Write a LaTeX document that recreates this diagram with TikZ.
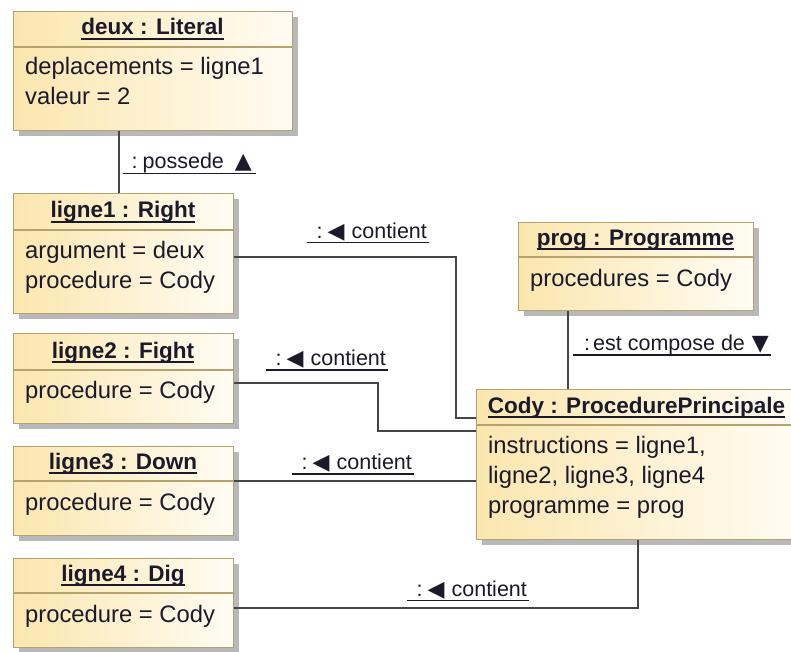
\documentclass[tikz,border=0pt]{standalone}
\usepackage{fontspec}
\setmainfont{Liberation Sans}
\newfontfamily\symfont{DejaVu Sans}
\usetikzlibrary{shadows}
\definecolor{boxA}{HTML}{FBE6AE}
\definecolor{boxB}{HTML}{FFFCF3}
\definecolor{boxline}{HTML}{B5A26C}
\definecolor{wirec}{HTML}{454545}
\definecolor{txt}{HTML}{1A1A2A}
\tikzset{
  objbox/.style={draw=boxline, line width=1.4pt, left color=boxA, right color=boxB,
    anchor=north west, inner sep=0pt,
    drop shadow={shadow xshift=5pt, shadow yshift=-5pt, fill=black!28, opacity=1}},
  sepline/.style={draw=boxline, line width=1.4pt},
  hdr/.style={font=\fontsize{22.5}{27}\selectfont\bfseries, text=txt, anchor=base, inner sep=0pt},
  attr/.style={font=\fontsize{23.8}{28}\selectfont, text=txt, anchor=base west, inner sep=0pt},
  lbl/.style={font=\fontsize{21.5}{26}\selectfont, text=txt, anchor=base west, inner sep=0pt},
  wire/.style={draw=wirec, line width=1.4pt},
  uline/.style={draw=txt, line width=1.3pt}
}
\newcommand{\tri}[1]{{\symfont\fontsize{22}{26}\selectfont #1}}
\newcommand{\contlbl}{\hspace*{9.5pt}:\hspace*{5pt}\tri{◀}\hspace*{7pt}contient\hspace*{2pt}}
\begin{document}
\begin{tikzpicture}[x=1pt,y=-1pt]
\clip (0,0) rectangle (791,652);
\fill[white] (0,0) rectangle (791,652);

% ---- boxes ----
\node[objbox, minimum width=279pt, minimum height=119pt] (deux) at (13,11) {};
\node[objbox, minimum width=220pt, minimum height=120pt] (l1) at (13,193) {};
\node[objbox, minimum width=220pt, minimum height=90pt] (l2) at (13,333) {};
\node[objbox, minimum width=220pt, minimum height=89pt] (l3) at (13,446) {};
\node[objbox, minimum width=220pt, minimum height=89pt] (l4) at (13,558) {};
\node[objbox, minimum width=235pt, minimum height=88pt] (prog) at (518,222) {};
\node[objbox, minimum width=321pt, minimum height=150pt] (cody) at (476,389) {};

% ---- header separators ----
\draw[sepline] (13,47) -- (292,47);
\draw[sepline] (13,230) -- (233,230);
\draw[sepline] (13,370) -- (233,370);
\draw[sepline] (13,481) -- (233,481);
\draw[sepline] (13,593) -- (233,593);
\draw[sepline] (518,257) -- (753,257);
\draw[sepline] (476,425) -- (797,425);

% ---- headers ----
\node[hdr] (hdeux) at (152.5,35) {deux : Literal};
\node[hdr] (hl1) at (123,218) {ligne1 : Right};
\node[hdr] (hl2) at (123,358) {ligne2 : Fight};
\node[hdr] (hl3) at (123,469) {ligne3 : Down};
\node[hdr] (hl4) at (123,581) {ligne4 : Dig};
\node[hdr] (hprog) at (635.5,245) {prog : Programme};
\node[hdr] (hcody) at (636.5,413) {Cody : ProcedurePrincipale};
\foreach \h in {hdeux,hl1,hl2,hl3,hl4,hprog,hcody}
  \draw[uline] ([yshift=-4pt]\h.base west) -- ([yshift=-4pt]\h.base east);

% ---- attributes ----
\node[attr] (a1) at (25,75) {deplacements = ligne1};
\node[attr] (a2) at (25,105) {valeur = 2};
\node[attr] (a3) at (25,258) {argument = deux};
\node[attr] (a4) at (25,288) {procedure = Cody};
\node[attr] (a5) at (25,398) {procedure = Cody};
\node[attr] (a6) at (25,510) {procedure = Cody};
\node[attr] (a7) at (25,622) {procedure = Cody};
\node[attr] (a8) at (530,286) {procedures = Cody};
\node[attr] (a9) at (488,453) {instructions = ligne1,};
\node[attr] (a10) at (488,483) {ligne2, ligne3, ligne4};
\node[attr] (a11) at (488,513) {programme = prog};

% ---- connectors ----
\coordinate (k1) at (456,257);
\coordinate (k2) at (456,418);
\coordinate (k3) at (378,383);
\coordinate (k4) at (378,431);
\coordinate (k5) at (638,608);
\draw[wire] (deux.south -| 119,0) -- (l1.north -| 119,0);
\draw[wire] (l1.east |- k1) -- (k1) -- (k2) -- (cody.west |- k2);
\draw[wire] (l2.east |- k3) -- (k3) -- (k4) -- (cody.west |- k4);
\draw[wire] (l3.east |- 0,481) -- (cody.west |- 0,481);
\draw[wire] (l4.east |- k5) -- (k5) -- (cody.south -| k5);
\draw[wire] (prog.south -| 568,0) -- (cody.north -| 568,0);

% ---- labels ----
\node[lbl] (lp) at (123,169) {\hspace*{8.5pt}:\hspace*{5pt}possede\hspace*{11pt}\tri{▲}\hspace*{4pt}};
\node[lbl] (lc1) at (307,238) {\contlbl};
\node[lbl] (lc2) at (266,365.5) {\contlbl};
\node[lbl] (lc3) at (292,469.5) {\contlbl};
\node[lbl] (lc4) at (407,596) {\contlbl};
\node[lbl] (lec) at (573,350.5) {\hspace*{11pt}:\hspace*{3pt}est compose de\hspace*{7pt}\tri{▼}\hspace*{2pt}};
\foreach \h in {lp,lc1,lc2,lc3,lc4,lec}
  \draw[uline] ([yshift=-4.5pt]\h.base west) -- ([yshift=-4.5pt]\h.base east);
\end{tikzpicture}
\end{document}
